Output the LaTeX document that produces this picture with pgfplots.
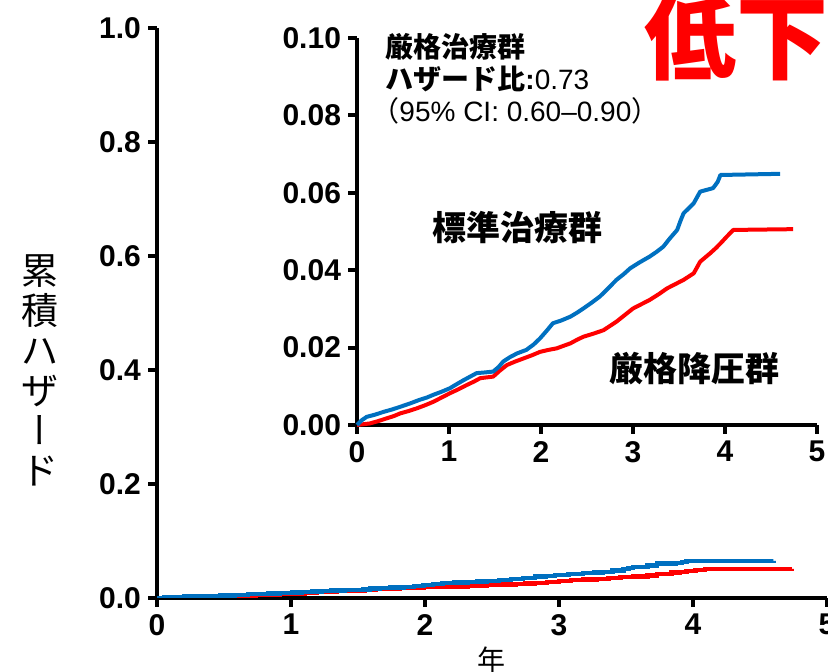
\documentclass[border=0pt]{standalone}
\usepackage{fontspec}
\setmainfont{Liberation Sans}
\newfontfamily\jp{Noto Sans CJK JP}
\newfontfamily\jpv{Noto Sans CJK JP}[RawFeature=+vert]
\usepackage{pgfplots}
\pgfplotsset{compat=1.18}
\usepackage{pgfplotstable}
\definecolor{cblue}{RGB}{0,112,192}
\definecolor{cred}{RGB}{255,0,0}

\pgfplotstableread{
x y
0 0
0.05 0.0012
0.105 0.0021
0.2 0.0027
0.29 0.0034
0.38 0.0040
0.47 0.0047
0.58 0.0056
0.68 0.0065
0.76 0.0071
0.83 0.0078
0.92 0.0086
1.01 0.0095
1.08 0.0105
1.16 0.0116
1.23 0.0125
1.30 0.0134
1.40 0.0136
1.48 0.0138
1.54 0.0150
1.59 0.0164
1.66 0.0175
1.74 0.0185
1.84 0.0194
1.92 0.0208
1.99 0.0224
2.06 0.0243
2.13 0.0263
2.22 0.0270
2.32 0.0280
2.39 0.0290
2.46 0.0301
2.55 0.0316
2.64 0.0332
2.73 0.0353
2.82 0.0375
2.90 0.0390
2.97 0.0405
3.07 0.0420
3.18 0.0435
3.26 0.0448
3.33 0.0461
3.40 0.0482
3.48 0.0504
3.52 0.0530
3.55 0.0547
3.66 0.0573
3.73 0.0603
3.87 0.0612
3.92 0.0628
3.95 0.0646
4.60 0.0649
}\bluedata

\pgfplotstableread{
x y
0 0
0.14 0.0004
0.23 0.0010
0.32 0.0017
0.40 0.0023
0.47 0.0030
0.56 0.0036
0.65 0.0043
0.74 0.0051
0.83 0.0060
0.92 0.0071
1.01 0.0082
1.10 0.0092
1.19 0.0103
1.27 0.0112
1.34 0.0121
1.41 0.0123
1.48 0.0125
1.55 0.0140
1.63 0.0155
1.72 0.0164
1.81 0.0172
1.90 0.0180
1.99 0.0189
2.08 0.0194
2.17 0.0198
2.25 0.0205
2.32 0.0211
2.39 0.0220
2.46 0.0228
2.57 0.0236
2.68 0.0245
2.75 0.0256
2.82 0.0267
2.91 0.0284
3.00 0.0301
3.09 0.0312
3.18 0.0323
3.28 0.0338
3.37 0.0353
3.46 0.0364
3.55 0.0375
3.66 0.0392
3.73 0.0422
3.84 0.0444
3.90 0.0457
3.95 0.0469
4.02 0.0487
4.09 0.0504
4.74 0.0506
}\reddata

\pgfplotsset{
  myaxis/.style={
    scale only axis,
    anchor=south west,
    axis x line*=bottom, axis y line*=left,
    axis line style={line width=2pt,-},
    x axis line style={-}, y axis line style={-},
    every tick/.style={line width=2pt, black},
    major tick length=4.5pt,
    tick align=outside,
    xmin=0, xmax=5, xtick={0,1,2,3,4,5},
    /pgf/number format/assume math mode=true,
    ticklabel style={font=\bfseries\fontsize{15}{15}\selectfont},
    clip mode=individual,
  }
}

\begin{document}
\begin{tikzpicture}
\path[use as bounding box] (0,0) rectangle (414pt,336pt);

\begin{axis}[myaxis,
  at={(78.5pt,37pt)},
  width=335pt, height=285pt,
  ymin=0, ymax=1,
  ytick={0,0.2,0.4,0.6,0.8,1.0},
  yticklabel style={/pgf/number format/.cd, fixed, fixed zerofill, precision=1},
]
\addplot[const plot, cred, line width=2.2pt] table[x=x,y=y] {\reddata};
\addplot[const plot, cblue, line width=2.2pt] table[x=x,y=y] {\bluedata};
\node[align=center, font=\jp\fontsize{18.5}{20}\selectfont] at (rel axis cs:-0.175,0.40)
  {累\\積\\ハ\\ザ\\{\jpv ー}\\ド};
\node[font=\jp\fontsize{14}{14}\selectfont] at (rel axis cs:0.4985,-0.109) {年};
\end{axis}

\begin{axis}[myaxis,
  at={(178.5pt,123.5pt)},
  width=230pt, height=193.5pt,
  ymin=0, ymax=0.1,
  ytick={0,0.02,0.04,0.06,0.08,0.10},
  yticklabel style={/pgf/number format/.cd, fixed, fixed zerofill, precision=2},
  clip=false,
]
\addplot[cred, line width=2pt, line join=round] table[x=x,y=y] {\reddata};
\addplot[cblue, line width=2pt, line join=round] table[x=x,y=y] {\bluedata};
\node[anchor=north west, align=left, inner sep=0pt, font=\fontsize{14}{16}\selectfont]
  at (rel axis cs:0.061,1.013)
  {{\jp\bfseries 厳格治療群}\\{\jp\bfseries ハザード比}\textbf{:}0.73\\\kern-0.5em{\jp （}95\% CI: 0.60–0.90{\jp ）}};
\node[font=\jp\bfseries\fontsize{17}{17}\selectfont] at (axis cs:1.74,0.0509) {標準治療群};
\node[font=\jp\bfseries\fontsize{17}{17}\selectfont] at (axis cs:3.67,0.01447) {厳格降圧群};
\node[text=cred, inner sep=0pt, font=\jp\bfseries\fontsize{46}{46}\selectfont] at (rel axis cs:0.826,1.0) {低下};
\end{axis}
\end{tikzpicture}
\end{document}
